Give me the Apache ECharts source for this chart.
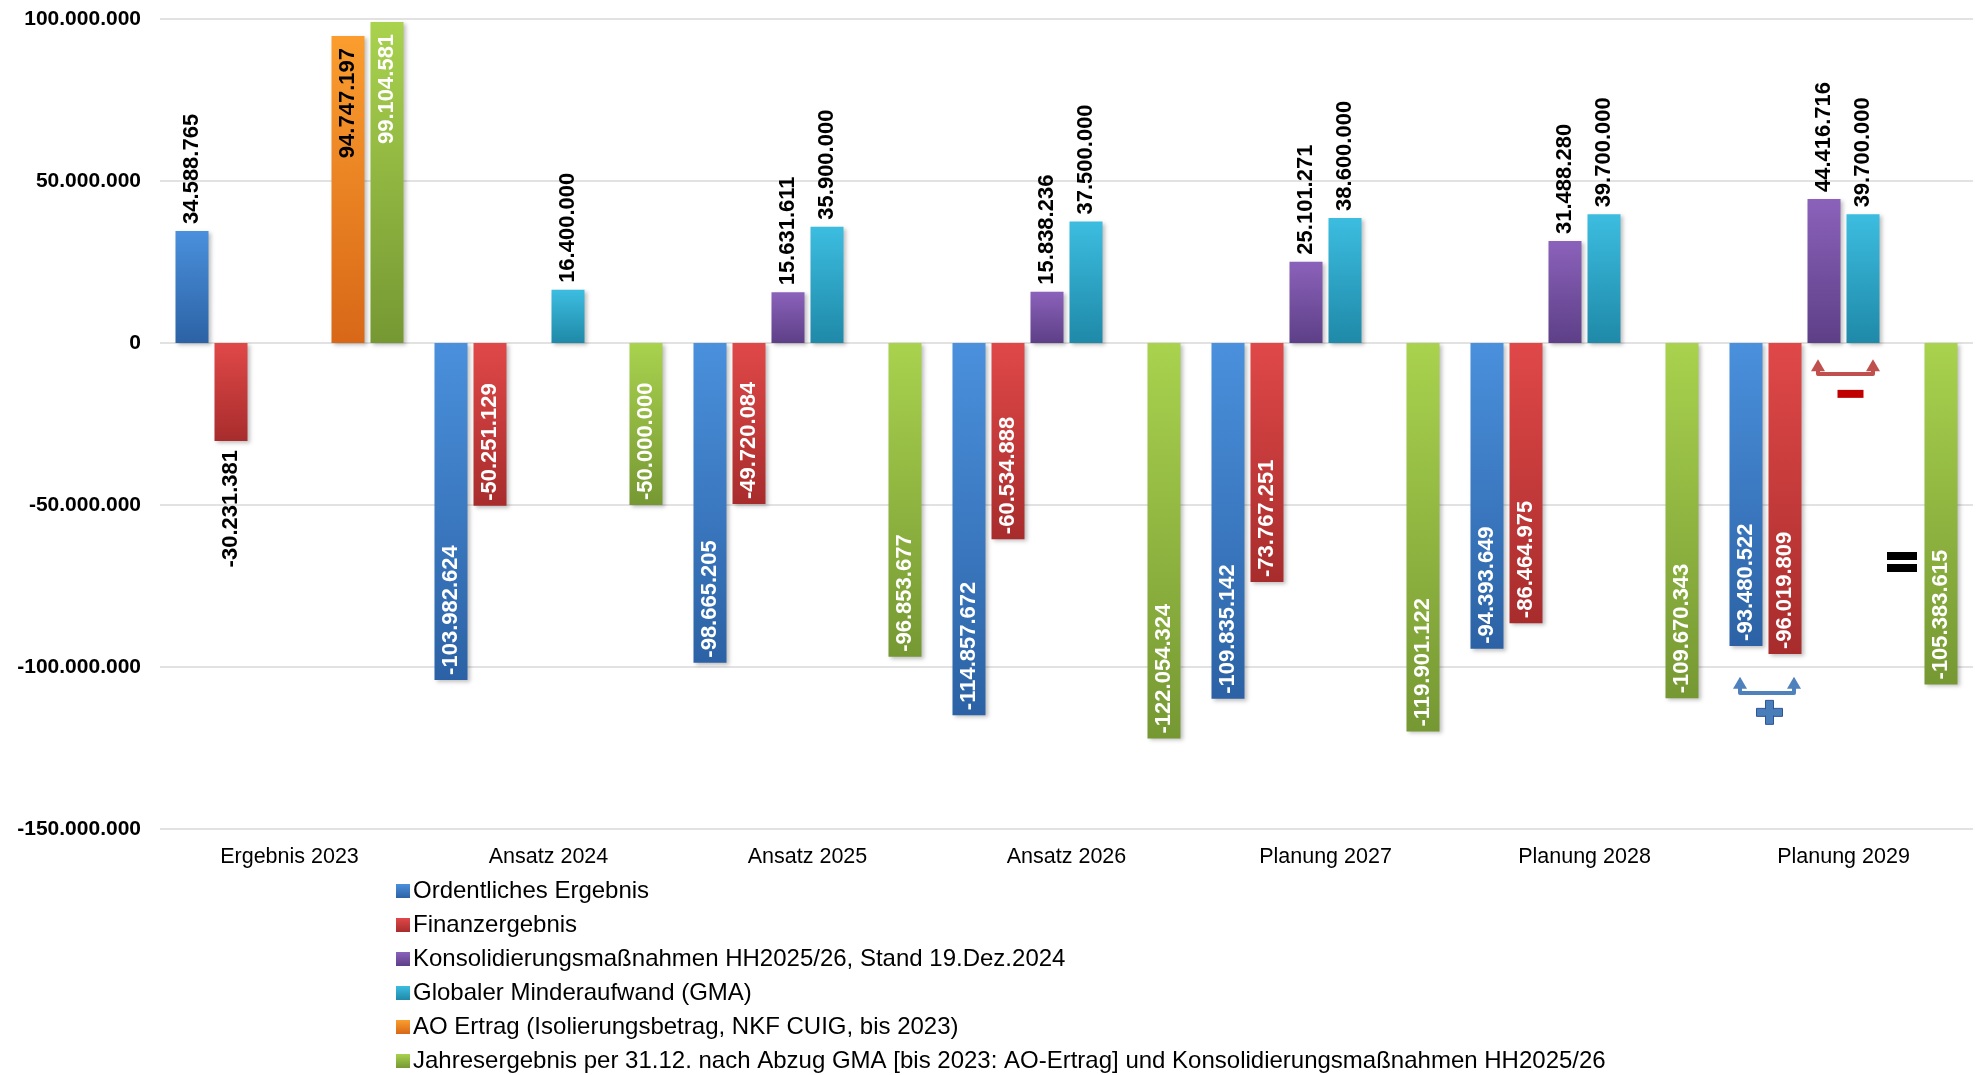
<!DOCTYPE html>
<html>
<head>
<meta charset="utf-8">
<script src="https://cdn.jsdelivr.net/npm/echarts@6/dist/echarts.min.js"></script>
<style>
html, body { margin: 0; padding: 0; background: #fff; }
#chart { width: 1979px; height: 1075px; }
</style>
</head>
<body>
<div id="chart"></div>
<script>
var categories = ['Ergebnis 2023', 'Ansatz 2024', 'Ansatz 2025', 'Ansatz 2026', 'Planung 2027', 'Planung 2028', 'Planung 2029'];
var ordentlich = [34588765, -103982624, -98665205, -114857672, -109835142, -94393649, -93480522];
var finanz = [-30231381, -50251129, -49720084, -60534888, -73767251, -86464975, -96019809];
var konsol = [null, null, 15631611, 15838236, 25101271, 31488280, 44416716];
var gma = [null, 16400000, 35900000, 37500000, 38600000, 39700000, 39700000];
var aoErtrag = [94747197, null, null, null, null, null, null];
var jahres = [99104581, -50000000, -96853677, -122054324, -119901122, -109670343, -105383615];
var seriesNames = [
    'Ordentliches Ergebnis',
    'Finanzergebnis',
    'Konsolidierungsmaßnahmen HH2025/26, Stand 19.Dez.2024',
    'Globaler Minderaufwand (GMA)',
    'AO Ertrag (Isolierungsbetrag, NKF CUIG, bis 2023)',
    'Jahresergebnis per 31.12. nach Abzug GMA [bis 2023: AO-Ertrag] und Konsolidierungsmaßnahmen HH2025/26'
];

var SANS = "'Liberation Sans', Arial, sans-serif";
var BAR_W = 33, BAR_GAP = 6;

var chart = echarts.init(document.getElementById('chart'));

function fmt(v) {
    return String(Math.round(v)).replace(/\B(?=(\d{3})+(?!\d))/g, '.');
}

function grad(top, bottom) {
    return new echarts.graphic.LinearGradient(0, 0, 0, 1, [
        { offset: 0, color: top },
        { offset: 1, color: bottom }
    ]);
}

// label placement like in the excel chart: outside unless the bar is long / hits the top
function items(values, insideColor) {
    return values.map(function (v) {
        if (v == null) return null;
        var l;
        if (v >= 0) {
            if (v > 90000000) l = { position: 'insideTop', color: insideColor, align: 'right', distance: 12 };
            else l = { position: 'top', color: '#000', align: 'left', distance: 7 };
        } else {
            if (v > -40000000) l = { position: 'bottom', color: '#000', align: 'right', distance: 9 };
            else l = { position: 'insideBottom', color: insideColor, align: 'left', distance: 5 };
        }
        return { value: v, label: l };
    });
}

function bar(name, values, top, bottom, insideColor) {
    return {
        name: name,
        type: 'bar',
        barWidth: BAR_W,
        barGap: (BAR_GAP / BAR_W * 100) + '%',
        data: items(values, insideColor),
        itemStyle: {
            color: grad(top, bottom),
            shadowBlur: 4,
            shadowOffsetX: 2,
            shadowOffsetY: 2,
            shadowColor: 'rgba(0,0,0,0.25)'
        },
        label: {
            show: true,
            rotate: 90,
            verticalAlign: 'middle',
            fontFamily: SANS,
            fontWeight: 'bold',
            fontSize: 22,
            formatter: function (p) { return fmt(p.value); }
        }
    };
}

chart.setOption({
    backgroundColor: '#fff',
    animation: false,
    grid: { left: 160, right: 6, top: 19, bottom: 246 },
    legend: {
        orient: 'vertical',
        left: 396,
        top: 879,
        padding: 0,
        itemWidth: 14,
        itemHeight: 14,
        itemGap: 10,
        icon: 'rect',
        textStyle: { fontFamily: SANS, fontSize: 24, lineHeight: 24, color: '#000', padding: [0, 0, 0, -2] },
        data: seriesNames
    },
    xAxis: {
        type: 'category',
        data: categories,
        axisLine: { show: false, onZero: false },
        axisTick: { show: false },
        axisLabel: { fontFamily: SANS, fontSize: 21.5, color: '#000', margin: 17 }
    },
    yAxis: {
        type: 'value',
        min: -150000000,
        max: 100000000,
        interval: 50000000,
        axisLine: { show: false },
        axisTick: { show: false },
        splitLine: { lineStyle: { color: '#d9d9d9', width: 1.5 } },
        axisLabel: { fontFamily: SANS, fontSize: 21, fontWeight: 'bold', color: '#000', margin: 19, formatter: fmt }
    },
    series: [
        bar(seriesNames[0], ordentlich, '#4a90dc', '#2c62a5', '#fff'),
        bar(seriesNames[1], finanz, '#e04848', '#a82c2c', '#fff'),
        bar(seriesNames[2], konsol, '#8b62ba', '#5d3f87', '#fff'),
        bar(seriesNames[3], gma, '#3cbde0', '#1f89a8', '#fff'),
        bar(seriesNames[4], aoErtrag, '#fb9d2e', '#d86818', '#000'),
        bar(seriesNames[5], jahres, '#a9d24e', '#769833', '#fff')
    ]
});

// annotations for Planung 2029: (blue + red) - (purple + cyan) = green
function px(val) {
    return chart.convertToPixel({ xAxisIndex: 0, yAxisIndex: 0 }, ['Planung 2029', val]);
}
var step = BAR_W + BAR_GAP;
var c0 = px(0)[0];
var xBlue = c0 - 2.5 * step, xRed = c0 - 1.5 * step, xPurple = c0 - 0.5 * step, xCyan = c0 + 0.5 * step, xGreen = c0 + 2.5 * step;

function bracket(xl, xr, yTip, yBase, color) {
    return [
        { type: 'polyline', shape: { points: [[xl, yTip + 8], [xl, yBase], [xr, yBase], [xr, yTip + 8]] },
          style: { stroke: color, lineWidth: 4, fill: null, lineJoin: 'round' } },
        { type: 'polygon', shape: { points: [[xl - 7, yTip + 12], [xl, yTip], [xl + 7, yTip + 12]] }, style: { fill: color } },
        { type: 'polygon', shape: { points: [[xr - 7, yTip + 12], [xr, yTip], [xr + 7, yTip + 12]] }, style: { fill: color } }
    ];
}

var g = [];
// plus bracket under blue and red
var yb1 = px(-103000000)[1], yb2 = px(-108000000)[1];
g = g.concat(bracket(xBlue - 6, xRed + 9, yb1, yb2, '#4f81bd'));
var pc = [(xBlue + xRed) / 2 + 4, px(-114000000)[1]];
g.push({ type: 'rect', shape: { x: pc[0] - 13, y: pc[1] - 4, width: 26, height: 8 }, style: { fill: '#4a7ebb', stroke: '#2f5597', lineWidth: 1 } });
g.push({ type: 'rect', shape: { x: pc[0] - 4, y: pc[1] - 12, width: 8, height: 24 }, style: { fill: '#4a7ebb', stroke: '#2f5597', lineWidth: 1 } });
g.push({ type: 'rect', shape: { x: pc[0] - 12, y: pc[1] - 3, width: 24, height: 6 }, style: { fill: '#4a7ebb' } });
// minus bracket under purple and cyan
var yr1 = px(-5000000)[1], yr2 = px(-9600000)[1];
g = g.concat(bracket(xPurple - 6, xCyan + 10, yr1, yr2, '#c0504d'));
var mc = [(xPurple + xCyan) / 2 + 7, px(-15700000)[1]];
g.push({ type: 'rect', shape: { x: mc[0] - 13, y: mc[1] - 4, width: 26, height: 8 }, style: { fill: '#c00000' } });
// equals sign
var ec = [(xCyan + xGreen) / 2, px(-67600000)[1]];
g.push({ type: 'rect', shape: { x: ec[0] - 15, y: ec[1] - 10, width: 30, height: 8 }, style: { fill: '#000' } });
g.push({ type: 'rect', shape: { x: ec[0] - 15, y: ec[1] + 2, width: 30, height: 8 }, style: { fill: '#000' } });

chart.setOption({ graphic: g });
</script>
</body>
</html>
